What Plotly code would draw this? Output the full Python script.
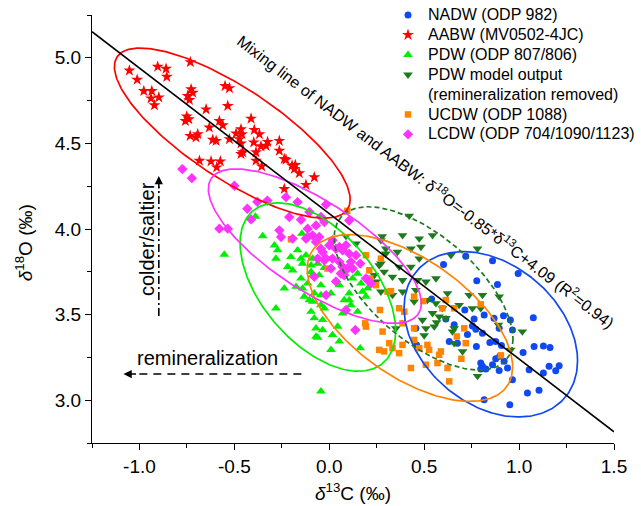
import numpy as np
import plotly.graph_objects as go

# ---------------- data (δ13C, δ18O in ‰) ----------------
nadw_d13c = [0.602, 0.719, 0.860, 0.995, 0.777, 0.886, 0.539, 0.456, 0.460, 0.614, 0.658, 0.714,
             0.763, 0.754, 0.816, 0.868, 0.918, 0.954, 0.895, 0.965, 1.075, 0.846, 0.775, 0.728,
             0.632, 0.675, 0.772, 0.807, 0.877, 0.907, 0.898, 0.877, 0.921, 0.860, 0.798, 0.807,
             0.798, 0.825, 0.895, 0.939, 0.965, 1.021, 1.079, 1.128, 1.163, 1.158, 1.211, 1.193,
             1.128, 1.053, 1.044, 1.105, 0.816, 0.951]
nadw_d18o = [3.792, 3.841, 3.814, 3.740, 3.698, 3.676, 3.591, 3.420, 3.323, 3.474, 3.440, 3.527,
             3.474, 3.434, 3.498, 3.478, 3.494, 3.469, 3.420, 3.410, 3.482, 3.337, 3.314, 3.384,
             3.343, 3.333, 3.415, 3.391, 3.343, 3.320, 3.256, 3.242, 3.227, 3.207, 3.217, 3.198,
             3.182, 3.182, 3.174, 3.188, 3.120, 3.279, 3.314, 3.317, 3.308, 3.198, 3.201, 3.172,
             3.159, 3.178, 3.042, 3.058, 3.003, 2.974]

aabw_d13c = [-1.053, -0.904, -0.860, -0.856, -0.732, -1.012, -0.977, -0.935, -0.939, -0.898, -0.921,
             -0.728, -0.719, -0.746, -0.737, -0.649, -0.549, -0.526, -0.535, -0.751, -0.740, -0.758,
             -0.632, -0.579, -0.561, -0.412, -0.733, -0.693, -0.702, -0.614, -0.596, -0.526, -0.491,
             -0.465, -0.460, -0.474, -0.465, -0.395, -0.368, -0.398, -0.325, -0.333, -0.360, -0.456,
             -0.465, -0.386, -0.263, -0.263, -0.237, -0.228, -0.684, -0.623, -0.574, -0.593, -0.386,
             -0.356, -0.196, -0.179, -0.184, -0.158, -0.079, -0.123, -0.237]
aabw_d18o = [4.926, 4.948, 4.936, 4.889, 4.975, 4.872, 4.806, 4.806, 4.763, 4.769, 4.723,
             4.816, 4.796, 4.777, 4.754, 4.699, 4.835, 4.823, 4.719, 4.657, 4.641, 4.631,
             4.593, 4.631, 4.606, 4.645, 4.544, 4.554, 4.535, 4.521, 4.515, 4.525, 4.558,
             4.583, 4.554, 4.525, 4.500, 4.579, 4.554, 4.506, 4.509, 4.486, 4.483, 4.448,
             4.438, 4.448, 4.515, 4.457, 4.409, 4.405, 4.399, 4.395, 4.395, 4.360, 4.399,
             4.366, 4.370, 4.374, 4.351, 4.326, 4.302, 4.258, 4.234]

pdw_d13c = [-0.389, -0.553, -0.351, -0.289, -0.272, -0.281, -0.219, -0.144, -0.202, -0.167, -0.149,
            -0.123, -0.141, -0.088, -0.281, -0.193, -0.237, -0.175, -0.132, -0.088, -0.096, -0.079,
            -0.070, -0.044, -0.096, -0.053, -0.026, -0.044, -0.026, -0.105, -0.070, -0.044, 0.114,
            0.149, 0.070, -0.035, -0.035, 0.044, 0.017, -0.061, 0.053, 0.009, 0.163, 0.105,
            -0.088, -0.044, 0.009, -0.079, -0.149, -0.114, -0.141, -0.096, 0.123, 0.149, 0.167,
            0.175, 0.202, 0.105, 0.079, 0.053, -0.026, -0.061, 0.193]
pdw_d18o = [4.073, 3.851, 3.959, 3.905, 3.876, 3.827, 3.779, 3.973, 3.837, 3.876, 3.827,
            3.847, 3.798, 3.827, 3.537, 3.759, 3.653, 3.663, 3.605, 3.576, 3.517, 3.479,
            3.420, 3.052, 3.788, 3.730, 3.827, 3.614, 3.537, 3.585, 3.372, 3.556, 3.556,
            3.517, 3.507, 3.469, 3.410, 3.430, 3.381, 3.366, 3.343, 3.294, 3.304, 3.585,
            3.730, 3.672, 3.624, 3.624, 3.711, 3.682, 3.653, 3.750, 3.711, 3.740, 3.682,
            3.634, 3.653, 3.624, 3.585, 3.672, 3.773, 3.798, 3.605]

model_d13c = [0.386, 0.474, 0.544, 0.272, 0.298, 0.359, 0.430, 0.483, 0.781, 0.474, 0.368, 0.430,
              0.272, 0.289, 0.333, 0.386, 0.246, 0.272, 0.333, 0.386, 0.456, 0.509, 0.737, 0.807,
              0.684, 0.798, 1.017, 0.421, 0.141, 0.088, 0.279, 0.465, 0.562, 0.641, 0.298, 0.263,
              0.237, 0.623, 0.517, 0.562, 0.596, 0.579, 0.500, 0.509, 0.565, 0.351, 0.658, 0.895,
              0.891, 0.956, 0.702, 0.781, 0.553, 0.658, 0.754, 0.447, 0.491, 0.544, 0.614, 0.649]
model_d18o = [3.963, 3.944, 3.963, 3.934, 3.885, 3.866, 3.885, 3.895, 3.885, 3.827, 3.779, 3.779,
              3.798, 3.750, 3.721, 3.701, 3.692, 3.634, 3.614, 3.634, 3.643, 3.692, 3.614, 3.614,
              3.556, 3.537, 3.401, 4.077, 3.915, 3.959, 3.957, 3.701, 3.711, 3.847, 3.856, 3.788,
              3.730, 3.624, 3.585, 3.566, 3.537, 3.488, 3.378, 3.420, 3.455, 3.420, 3.333, 3.605,
              3.440, 3.294, 3.285, 3.141, 3.430, 3.420, 3.537, 3.576, 3.469, 3.508, 3.479, 3.401]

ucdw_d13c = [0.095, -0.202, -0.009, 0.193, 0.272, 0.211, 0.216, 0.246, 0.307, 0.325, 0.447, 0.495,
             0.614, 0.658, 0.798, 0.267, 0.368, 0.395, 0.189, 0.193, 0.281, 0.386, 0.447, 0.316,
             0.263, 0.289, 0.333, 0.368, 0.386, 0.447, 0.474, 0.517, 0.526, 0.588, 0.570, 0.623,
             0.430, 0.632, 0.509, 0.579, 0.711, 0.719, 0.672, 0.696, 0.904, 0.596]
ucdw_d18o = [4.106, 3.940, 3.769, 3.847, 3.827, 3.759, 3.711, 3.672, 3.634, 3.637, 3.605, 3.579,
             3.585, 3.537, 3.560, 3.527, 3.537, 3.517, 3.449, 3.430, 3.401, 3.449, 3.420, 3.333,
             3.294, 3.285, 3.304, 3.275, 3.323, 3.352, 3.304, 3.323, 3.294, 3.285, 3.217, 3.188,
             3.188, 3.110, 3.207, 3.265, 3.420, 3.333, 3.372, 3.242, 3.262, 3.537]

lcdw_d13c = [-0.774, -0.724, -0.500, -0.579, -0.535, -0.432, -0.379, -0.326, -0.228, -0.167, -0.211,
             -0.149, -0.105, -0.412, -0.263, -0.254, -0.193, -0.114, -0.088, -0.070, -0.044, -0.017,
             -0.114, -0.053, -0.035, -0.017, 0.017, 0.035, 0.053, 0.070, 0.088, 0.105, 0.105,
             0.114, 0.053, 0.070, 0.061, 0.096, 0.079, 0.193, 0.219, 0.009, 0.000, 0.017,
             -0.061, 0.141, 0.123, 0.137, 0.088, -0.026, -0.123, -0.070, -0.044, -0.026, -0.079,
             -0.017, 0.163, 0.035]
lcdw_d18o = [4.350, 4.297, 4.253, 4.002, 4.002, 4.118, 4.159, 4.166, 4.186, 4.157, 4.070,
             4.054, 4.099, 4.056, 3.992, 3.953, 3.944, 4.002, 3.963, 4.021, 4.071, 4.143,
             3.953, 3.953, 3.866, 3.827, 3.827, 3.885, 3.895, 3.876, 3.905, 4.050, 3.856,
             3.808, 3.808, 3.779, 3.740, 3.769, 3.730, 3.711, 3.682, 3.769, 3.905, 3.934,
             3.827, 3.847, 3.769, 3.410, 3.527, 4.041, 3.944, 3.924, 3.885, 3.817, 3.721,
             3.614, 3.798, 3.694]

# Confidence ellipses: centre, half extents along each axis, correlation
ell_cx = [0.851, -0.511, -0.060, 0.497, 0.425, -0.076]
ell_cy = [3.385, 4.560, 3.661, 3.653, 3.480, 3.900]
ell_hx = [0.457, 0.621, 0.410, 0.471, 0.541, 0.561]
ell_hy = [0.483, 0.497, 0.492, 0.477, 0.487, 0.451]
ell_rho = [-0.32, -0.78, -0.52, -0.62, -0.585, -0.74]

# NADW-AABW mixing line
mix_slope = -0.85
mix_intercept = 4.09
mix_r2 = 0.94

x_tickvals = [-1.0, -0.5, 0.0, 0.5, 1.0, 1.5]
x_ticktext = ["-1.0", "-0.5", "0.0", "0.5", "1.0", "1.5"]
y_tickvals = [3.0, 3.5, 4.0, 4.5, 5.0]
y_ticktext = ["3.0", "3.5", "4.0", "4.5", "5.0"]

# ---------------- styling ----------------
BLUE = "#1048f2"
RED = "#ff0000"
LIME = "#00ee00"
DKGREEN = "#1f7a1f"
ORANGE = "#ff8400"
MAGENTA = "#ff33ff"
FONT = "Liberation Sans, Arial, sans-serif"

def lg(txt):
    return '<span style="font-size:16px">' + txt + "</span>"

fig = go.Figure()

series = [
    (nadw_d13c, nadw_d18o, "NADW (ODP 982)", BLUE, "circle", 7),
    (aabw_d13c, aabw_d18o, "AABW (MV0502-4JC)", RED, "star", 9),
    (pdw_d13c, pdw_d18o, "PDW (ODP 807/806)", LIME, "triangle-up", 8.5),
    (model_d13c, model_d18o, "PDW model output", DKGREEN, "triangle-down", 8.5),
]
for xs, ys, name, col, sym, sz in series:
    fig.add_trace(go.Scatter(x=xs, y=ys, mode="markers", name=lg(name),
                             marker=dict(color=col, symbol=sym, size=sz, line=dict(width=0))))

# second line of the model-output legend entry
fig.add_trace(go.Scatter(x=[None], y=[None], mode="markers", name=lg("(remineralization removed)"),
                         marker=dict(color="rgba(0,0,0,0)", size=1)))

for xs, ys, name, col, sym, sz in [
    (ucdw_d13c, ucdw_d18o, "UCDW (ODP 1088)", ORANGE, "square", 6.5),
    (lcdw_d13c, lcdw_d18o, "LCDW (ODP 704/1090/1123)", MAGENTA, "diamond", 8),
]:
    fig.add_trace(go.Scatter(x=xs, y=ys, mode="markers", name=lg(name),
                             marker=dict(color=col, symbol=sym, size=sz, line=dict(width=0))))

# confidence ellipses
ell_colors = [BLUE, RED, LIME, DKGREEN, ORANGE, MAGENTA]
ell_dash = ["solid", "solid", "solid", "5px,3px", "solid", "solid"]
t = np.linspace(0, 2 * np.pi, 241)
for cx, cy, hx, hy, rho, col, dash in zip(ell_cx, ell_cy, ell_hx, ell_hy, ell_rho, ell_colors, ell_dash):
    phi = np.arccos(rho)
    fig.add_trace(go.Scatter(x=cx + hx * np.cos(t), y=cy + hy * np.cos(t + phi), mode="lines",
                             line=dict(color=col, width=1.7, dash=dash), showlegend=False,
                             hoverinfo="skip"))

# mixing line
xl = np.array([-1.25, 1.5])
fig.add_trace(go.Scatter(x=xl, y=mix_slope * xl + mix_intercept, mode="lines",
                         line=dict(color="black", width=1.6), showlegend=False, hoverinfo="skip"))

mix_label = ("Mixing line of NADW and AABW: δ<sup>18</sup>O=%.2f*δ<sup>13</sup>C+%.2f (R<sup>2</sup>=%.2f)"
             % (mix_slope, mix_intercept, mix_r2))

annotations = [
    dict(x=0.509, y=4.278, xref="x", yref="y", text=mix_label, showarrow=False, textangle=37.5,
         font=dict(size=16), xanchor="center", yanchor="middle"),
    dict(x=-0.963, y=3.944, xref="x", yref="y", text="colder/saltier", showarrow=False,
         textangle=-90, font=dict(size=20)),
    dict(x=-0.642, y=3.246, xref="x", yref="y", text="remineralization", showarrow=False,
         font=dict(size=20)),
    # arrow heads
    dict(x=-1.084, y=3.153, xref="x", yref="y", ax=14, ay=0, axref="pixel", ayref="pixel",
         text="", showarrow=True, arrowhead=2, arrowsize=1.1, arrowwidth=1.5, arrowcolor="black"),
    dict(x=-0.898, y=4.310, xref="x", yref="y", ax=0, ay=14, axref="pixel", ayref="pixel",
         text="", showarrow=True, arrowhead=2, arrowsize=1.1, arrowwidth=1.5, arrowcolor="black"),
    # axis titles
    dict(x=0.5, y=-0.114, xref="paper", yref="paper", text="<i>δ</i><sup>13</sup>C (‰)",
         showarrow=False, font=dict(size=19), xanchor="center", yanchor="middle"),
    dict(x=-0.130, y=0.467, xref="paper", yref="paper", text="<i>δ</i><sup>18</sup>O (‰)",
         showarrow=False, font=dict(size=19), textangle=-90, xanchor="center", yanchor="middle"),
]

shapes = [
    dict(type="line", xref="x", yref="y", x0=-0.147, y0=3.153, x1=-1.03, y1=3.153,
         line=dict(color="black", width=1.5, dash="8px,6px")),
    dict(type="line", xref="x", yref="y", x0=-0.898, y0=3.492, x1=-0.898, y1=4.25,
         line=dict(color="black", width=1.6, dash="8px,3px,2px,3px")),
]

axis_common = dict(showline=True, linecolor="black", linewidth=1.3, ticks="outside", ticklen=6,
                   tickwidth=1.3, tickcolor="black", showgrid=False, zeroline=False,
                   tickfont=dict(size=19, family=FONT, color="black"), tickmode="array")

fig.update_layout(
    width=641, height=506,
    margin=dict(l=92, r=27, t=15, b=63, autoexpand=False),
    paper_bgcolor="white", plot_bgcolor="white",
    font=dict(family=FONT, color="black", size=19),
    xaxis=dict(range=[-1.25, 1.5], tickvals=x_tickvals, ticktext=x_ticktext,
               minor=dict(tickmode="linear", tick0=0, dtick=0.25, ticks="outside", ticklen=3.5,
                          tickwidth=1.2, tickcolor="black", showgrid=False),
               **axis_common),
    yaxis=dict(range=[2.75, 5.25], tickvals=y_tickvals, ticktext=y_ticktext,
               minor=dict(tickmode="linear", tick0=0, dtick=0.25, ticks="outside", ticklen=3.5,
                          tickwidth=1.2, tickcolor="black", showgrid=False),
               **axis_common),
    showlegend=True,
    legend=dict(xref="container", yref="container", x=388 / 641, y=1.0, xanchor="left",
                yanchor="top", bgcolor="rgba(0,0,0,0)", borderwidth=0,
                font=dict(size=13, family=FONT, color="black"), traceorder="normal",
                itemclick=False),
    annotations=annotations,
    shapes=shapes,
)

fig.write_html("out.html")
